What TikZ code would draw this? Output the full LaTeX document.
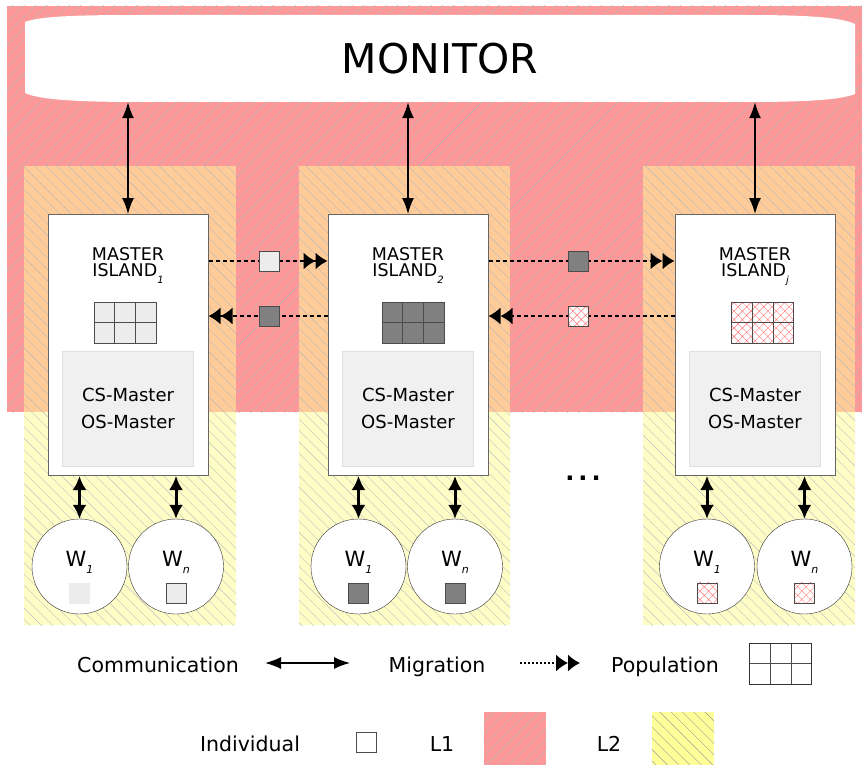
\documentclass[tikz,border=0pt]{standalone}
\usepackage{fontspec}
\setmainfont{DejaVu Sans}
\usepackage{tikz}
\usetikzlibrary{positioning}
\usetikzlibrary{arrows.meta,patterns.meta,calc}

\definecolor{lonecol}{HTML}{FF9999}
\definecolor{ltwocol}{HTML}{FFFF99}
\definecolor{ltwopale}{HTML}{FFFDC6}
\definecolor{overlapcol}{HTML}{FFCC99}
\definecolor{indlight}{HTML}{ECECEC}
\definecolor{inddark}{HTML}{808080}
\definecolor{csgray}{HTML}{F0F0F0}

\newcommand{\islsub}[1]{\raisebox{-7pt}{\fontsize{10}{10}\selectfont\itshape #1}}
\newcommand{\wsub}[1]{\raisebox{-7pt}{\fontsize{11}{11}\selectfont\itshape #1}}

\tikzset{
  lonefill/.style={preaction={fill=lonecol},
    pattern={Lines[angle=45,distance=8pt,line width=.4pt]}, pattern color=black!30},
  ltwofill/.style={preaction={fill=ltwocol},
    pattern={Lines[angle=-45,distance=8pt,line width=.4pt]}, pattern color=black!40},
  ltwoup/.style={preaction={fill=overlapcol},
    pattern={Lines[angle=-45,distance=8pt,line width=.4pt]}, pattern color=black!28},
  ltwodown/.style={preaction={fill=ltwopale},
    pattern={Lines[angle=-45,distance=8pt,line width=.4pt]}, pattern color=black!25},
  hatchred/.style={preaction={fill=white},
    pattern={Hatch[angle=45,distance=6pt,line width=.4pt]}, pattern color=red!55},
}

\begin{document}
\begin{tikzpicture}[
  x=1pt, y=-1pt,
  master/.style={draw=black!60, fill=white, line width=1pt, minimum width=160pt,
    minimum height=261pt, inner sep=0pt},
  title/.style={align=center, inner sep=0pt, font=\fontsize{17.5}{16}\selectfont},
  csbox/.style={draw=black!12, fill=csgray, minimum width=131pt, minimum height=115pt,
    inner sep=0pt, align=center, font=\fontsize{18}{27}\selectfont},
  popgrid/.style={draw=black!70, minimum width=62pt, minimum height=41pt, inner sep=0pt,
    path picture={
      \draw[black!70]
        ($(path picture bounding box.north west)!1/3!(path picture bounding box.north east)$) --
        ($(path picture bounding box.south west)!1/3!(path picture bounding box.south east)$)
        ($(path picture bounding box.north west)!2/3!(path picture bounding box.north east)$) --
        ($(path picture bounding box.south west)!2/3!(path picture bounding box.south east)$)
        (path picture bounding box.west) -- (path picture bounding box.east);
    }},
  worker/.style={draw=black!80, fill=white, circle, minimum size=95pt, inner sep=0pt},
  wlabel/.style={inner sep=0pt, anchor=base, font=\fontsize{21}{21}\selectfont},
  ind/.style={draw=black!70, minimum size=20pt, inner sep=0pt},
  legtext/.style={anchor=base, inner sep=0pt, font=\fontsize{20.5}{20.5}\selectfont},
  legbox/.style={minimum width=62pt, minimum height=53pt, inner sep=0pt},
  comm/.style={{Latex[length=16pt,width=12pt]}-{Latex[length=16pt,width=12pt]}, line width=1.5pt},
  wcomm/.style={{Latex[length=14pt,width=14pt]}-{Latex[length=14pt,width=14pt]}, line width=3pt},
  mig/.style={-{Latex[length=12pt,width=17pt]Latex[length=12pt,width=17pt]},
    dash pattern=on 4pt off 3pt, line width=1.5pt}
]
\useasboundingbox (0,0) rectangle (862,765);

% levels
\path[lonefill] (7,6) rectangle (862,412);
\foreach \xa/\xb in {24/236, 299/510, 643/855} {
  \path[ltwoup] (\xa,166) rectangle (\xb,412);
  \path[ltwodown] (\xa,412) rectangle (\xb,625);
}

% monitor
\fill[white] (25,22) .. controls (40,16) and (80,15) .. (140,15) -- (745,15)
  .. controls (805,15) and (840,17) .. (855,24) -- (855,94)
  .. controls (840,100) and (805,102) .. (745,102) -- (140,102)
  .. controls (80,102) and (40,100) .. (25,93) -- cycle;
\node[minimum width=830pt, minimum height=87pt, font=\fontsize{41}{41}\selectfont] (mon) at (440,58.5) {MONITOR};

% islands
\node[master] (m1) at (128,345) {};
\node[master] (m2) at (408,345) {};
\node[master] (m3) at (755,345) {};

\node[title, below=33pt of m1.north] (t1) {MASTER\\ISLAND\islsub{1}};
\node[title, below=33pt of m2.north] (t2) {MASTER\\ISLAND\islsub{2}};
\node[title, below=33pt of m3.north] (t3) {MASTER\\ISLAND\islsub{j}};

\node[popgrid, fill=indlight] (p1) at (125,322.5) {};
\node[popgrid, fill=inddark] (p2) at (413,322.5) {};
\node[popgrid, hatchred] (p3) at (762.5,322.5) {};

\node[csbox, above=10pt of m1.south] (c1) {CS-Master\\OS-Master};
\node[csbox, above=10pt of m2.south] (c2) {CS-Master\\OS-Master};
\node[csbox, above=10pt of m3.south] (c3) {CS-Master\\OS-Master};

% workers
\node[worker] (w11) at (79.5,566.5) {};
\node[worker] (w1n) at (176,566.5) {};
\node[worker] (w21) at (358.5,566.5) {};
\node[worker] (w2n) at (455,566.5) {};
\node[worker] (w31) at (707,566.5) {};
\node[worker] (w3n) at (804.5,566.5) {};

\node[wlabel] (lw11) at (w11.center) {W\wsub{1}};
\node[wlabel] (lw1n) at (w1n.center) {W\wsub{n}};
\node[wlabel] (lw21) at (w21.center) {W\wsub{1}};
\node[wlabel] (lw2n) at (w2n.center) {W\wsub{n}};
\node[wlabel] (lw31) at (w31.center) {W\wsub{1}};
\node[wlabel] (lw3n) at (w3n.center) {W\wsub{n}};

\node[ind, fill=indlight, draw=indlight, below=16pt of w11.center] (s11) {};
\node[ind, fill=indlight, below=16pt of w1n.center] (s1n) {};
\node[ind, fill=inddark, below=16pt of w21.center] (s21) {};
\node[ind, fill=inddark, below=16pt of w2n.center] (s2n) {};
\node[ind, hatchred, below=16pt of w31.center] (s31) {};
\node[ind, hatchred, below=16pt of w3n.center] (s3n) {};

\node[font=\fontsize{24}{24}\selectfont\bfseries] (dots) at (583,478) {.\kern4pt.\kern4pt.};

% communication
\path (m1.north |- mon.south) edge[comm] (m1.north)
(m2.north |- mon.south) edge[comm] (m2.north)
(m3.north |- mon.south) edge[comm] (m3.north)
(w11.north |- m1.south) edge[wcomm] (w11.north)
(w1n.north |- m1.south) edge[wcomm] (w1n.north)
(w21.north |- m2.south) edge[wcomm] (w21.north)
(w2n.north |- m2.south) edge[wcomm] (w2n.north)
(w31.north |- m3.south) edge[wcomm] (w31.north)
(w3n.north |- m3.south) edge[wcomm] (w3n.north)
;

% migration
\coordinate (rowa) at (0,261);
\coordinate (rowb) at (0,316);
\path (m1.east |- rowa) edge[mig] (m2.west |- rowa)
(m2.west |- rowb) edge[mig] (m1.east |- rowb)
(m2.east |- rowa) edge[mig] (m3.west |- rowa)
(m3.west |- rowb) edge[mig] (m2.east |- rowb)
;
\node[ind, fill=indlight] (i12) at (269,261) {};
\node[ind, fill=inddark] (i21) at (269,316) {};
\node[ind, fill=inddark] (i23) at (578,261) {};
\node[ind, hatchred] (i32) at (578,316) {};

% legend
\node[legtext] (lcomm) at (158,672) {Communication};
\coordinate (lca) at (265,663);
\coordinate (lcb) at (350,663);
\path (lca) edge[comm] (lcb);
\node[legtext] (lmig) at (437,672) {Migration};
\coordinate (lma) at (520,663);
\coordinate (lmb) at (580,663);
\path (lma) edge[mig, dash pattern=on 2pt off 2pt] (lmb);
\node[legtext] (lpop) at (665,672) {Population};
\node[popgrid, fill=white, draw=black!80] (lpopg) at (780.5,663.5) {};

\node[legtext] (lind) at (250,751) {Individual};
\node[ind, fill=white] (lindsq) at (366,742) {};
\node[legtext] (lone) at (442,751) {L1};
\node[legbox, lonefill] (lonebox) at (515,738.5) {};
\node[legtext] (ltwo) at (609,751) {L2};
\node[legbox, ltwofill] (ltwobox) at (683,738.5) {};

\end{tikzpicture}
\end{document}
